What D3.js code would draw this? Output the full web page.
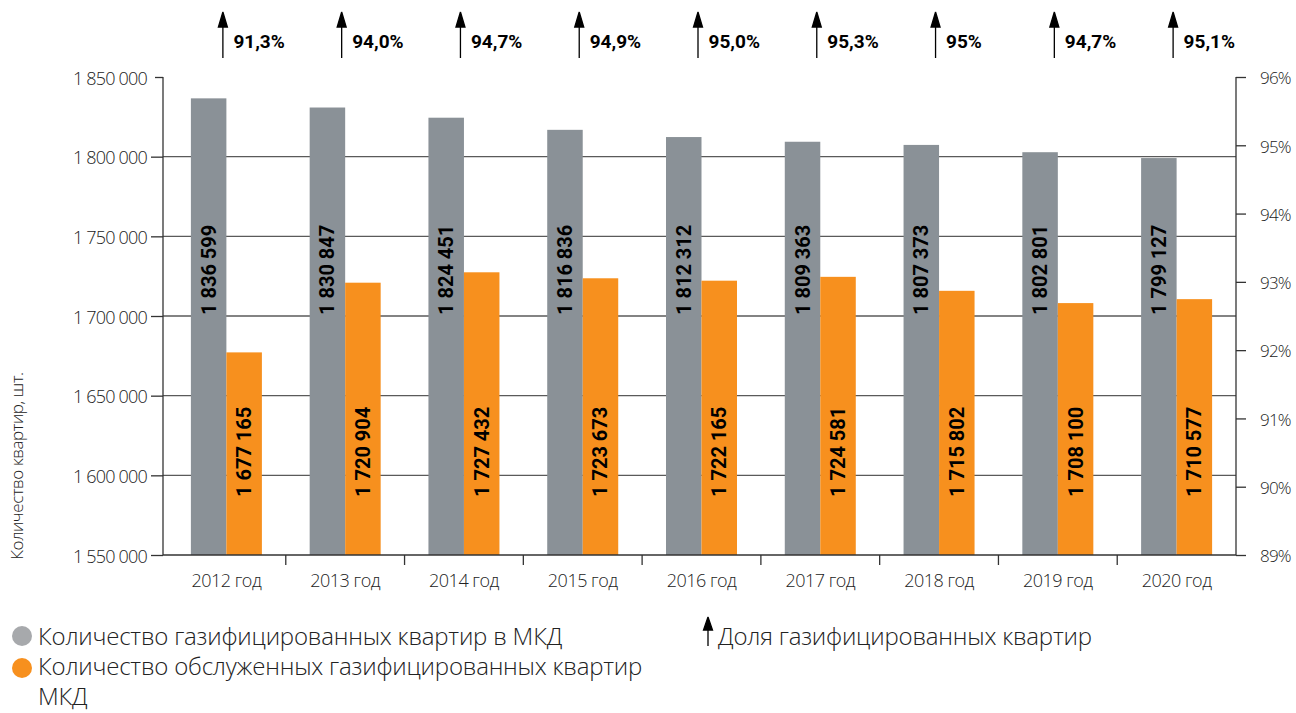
<!DOCTYPE html>
<html><head><meta charset="utf-8">
<script src="https://cdn.jsdelivr.net/npm/d3@7/dist/d3.min.js"></script>
<style>
body{margin:0;background:#fff;}
svg{display:block;}
</style></head>
<body><svg id="c" width="1296" height="713"></svg>
<script>
const years = ["2012 год","2013 год","2014 год","2015 год","2016 год","2017 год","2018 год","2019 год","2020 год"];
const gasified = [1836599,1830847,1824451,1816836,1812312,1809363,1807373,1802801,1799127];
const served = [1677165,1720904,1727432,1723673,1722165,1724581,1715802,1708100,1710577];
const shareLabels = ["91,3%","94,0%","94,7%","94,9%","95,0%","95,3%","95%","94,7%","95,1%"];
const leftTicks = [1550000,1600000,1650000,1700000,1750000,1800000,1850000];
const rightTicks = [89,90,91,92,93,94,95,96];
const legendItems = ["Количество газифицированных квартир в МКД","Количество обслуженных газифицированных квартир","МКД"];

const svg = d3.select("#c");
const lightFont = "'Open Sans', sans-serif";
const boldFont = "Roboto, sans-serif";
const axisX0 = 163, axisX1 = 1236, yTop = 77, yBot = 555;

const x = d3.scaleBand().domain(years).range([167, axisX1]).paddingInner(0).paddingOuter(0);
const y = d3.scaleLinear().domain([1550000,1850000]).range([yBot, yTop]);
const yr = d3.scaleLinear().domain([89,96]).range([yBot, yTop]);
const barW = 35.5;
const grey = "#8a9197", orange = "#f7901e";

// gridlines
svg.append("g").selectAll("line").data(leftTicks.filter(t=>t>1550000 && t<1850000)).join("line")
  .attr("x1", axisX0).attr("x2", axisX1).attr("y1", d=>y(d)).attr("y2", d=>y(d))
  .attr("stroke", "#5a5a5a").attr("stroke-width", 1.3);

// bars
const g = svg.append("g");
g.selectAll("rect.g").data(years).join("rect").attr("class","g")
  .attr("x", d=>x(d)+x.bandwidth()/2-barW).attr("width", barW)
  .attr("y", (d,i)=>y(gasified[i])).attr("height", (d,i)=>yBot-y(gasified[i]))
  .attr("fill", grey);
g.selectAll("rect.o").data(years).join("rect").attr("class","o")
  .attr("x", d=>x(d)+x.bandwidth()/2).attr("width", barW)
  .attr("y", (d,i)=>y(served[i])).attr("height", (d,i)=>yBot-y(served[i]))
  .attr("fill", orange);

const fmt = v => d3.format(",")(v).replace(/,/g, " ");
// bar labels
g.selectAll("text.gl").data(years).join("text").attr("class","gl")
  .attr("transform", d=>`translate(${x(d)+x.bandwidth()/2-barW/2+7},315) rotate(-90)`)
  .attr("font-family", boldFont).attr("font-weight", 700).attr("font-size", 20)
  .attr("fill", "#000").text((d,i)=>fmt(gasified[i]));
g.selectAll("text.ol").data(years).join("text").attr("class","ol")
  .attr("transform", d=>`translate(${x(d)+x.bandwidth()/2+barW/2+7},497) rotate(-90)`)
  .attr("font-family", boldFont).attr("font-weight", 700).attr("font-size", 20)
  .attr("fill", "#000").text((d,i)=>fmt(served[i]));

// left axis
const la = svg.append("g").attr("transform", `translate(${axisX0},0)`)
  .call(d3.axisLeft(y).tickValues(leftTicks).tickSize(12).tickPadding(4).tickFormat(fmt));
la.select(".domain").remove();
la.append("line").attr("x1",0).attr("x2",0).attr("y1",yTop).attr("y2",yBot).attr("stroke","#333").attr("stroke-width",1.3);
la.selectAll(".tick line").attr("stroke","#333").attr("stroke-width",1.3);
la.selectAll(".tick text").attr("font-family", lightFont).attr("font-weight",300).attr("font-size",18)
  .attr("fill","#222").attr("letter-spacing","-0.8").attr("dy","0.4em");
la.select(".tick:last-of-type line").attr("x2", -8);

// right axis
const ra = svg.append("g").attr("transform", `translate(${axisX1},0)`)
  .call(d3.axisRight(yr).tickValues(rightTicks).tickSize(10).tickPadding(14).tickFormat(d=>d+"%"));
ra.select(".domain").remove();
ra.append("line").attr("x1",0).attr("x2",0).attr("y1",yTop).attr("y2",yBot).attr("stroke","#333").attr("stroke-width",1.3);
ra.selectAll(".tick line").attr("stroke","#333").attr("stroke-width",1.3);
ra.selectAll(".tick text").attr("font-family", lightFont).attr("font-weight",300).attr("font-size",17)
  .attr("fill","#222").attr("letter-spacing","-0.8").attr("dy","0.4em");

// x axis
const xa = svg.append("g").attr("transform", `translate(0,${yBot})`);
xa.append("line").attr("x1",axisX0).attr("x2",axisX1).attr("stroke","#333").attr("stroke-width",1.3);
xa.selectAll("line.t").data(years.slice(1)).join("line").attr("class","t")
  .attr("x1", d=>x(d)).attr("x2", d=>x(d)).attr("y1",0).attr("y2",10)
  .attr("stroke","#333").attr("stroke-width",1.3);
xa.selectAll("text").data(years).join("text")
  .attr("x", d=>x(d)+x.bandwidth()/2).attr("y", 32).attr("text-anchor","middle")
  .attr("font-family", lightFont).attr("font-weight",300).attr("font-size",18)
  .attr("letter-spacing","-0.5").attr("fill","#222").text(d=>d);

// axis title
svg.append("text").attr("transform","translate(23,466) rotate(-90)").attr("text-anchor","middle")
  .attr("font-family", lightFont).attr("font-weight",300).attr("font-size",17).attr("letter-spacing","-0.4")
  .attr("fill","#222").text("Количество квартир, шт.");

// share arrows
const sh = svg.append("g");
sh.selectAll("path").data(years).join("path")
  .attr("d", d=>{const cx = x(d)+x.bandwidth()/2-3.5; return `M${cx},58 L${cx},12 L${cx-4.5},27 L${cx+4.5},27 L${cx},12`;})
  .attr("stroke","#000").attr("stroke-width",1.3).attr("fill","#000");
sh.selectAll("text").data(years).join("text")
  .attr("x", d=>x(d)+x.bandwidth()/2+7).attr("y", 48)
  .attr("font-family", boldFont).attr("font-weight",700).attr("font-size",19)
  .attr("fill","#000").text((d,i)=>shareLabels[i]);

// legend
const lg = svg.append("g");
lg.append("circle").attr("cx",22).attr("cy",636).attr("r",10).attr("fill","#a7a9ac");
lg.append("circle").attr("cx",22).attr("cy",668).attr("r",10).attr("fill",orange);
lg.selectAll("text").data(legendItems).join("text")
  .attr("x",38).attr("y",(d,i)=>645+i*30)
  .attr("font-family", lightFont).attr("font-weight",300).attr("font-size",24).attr("letter-spacing","-0.2")
  .attr("fill","#222").text(d=>d);
lg.append("path").attr("d","M708,646 L708,617 L703.5,630 L712.5,630 L708,617")
  .attr("stroke","#000").attr("stroke-width",1.3).attr("fill","#000");
lg.append("text").attr("x",718).attr("y",645)
  .attr("font-family", lightFont).attr("font-weight",300).attr("font-size",24).attr("letter-spacing","-0.2")
  .attr("fill","#222").text("Доля газифицированных квартир");
</script></body></html>
